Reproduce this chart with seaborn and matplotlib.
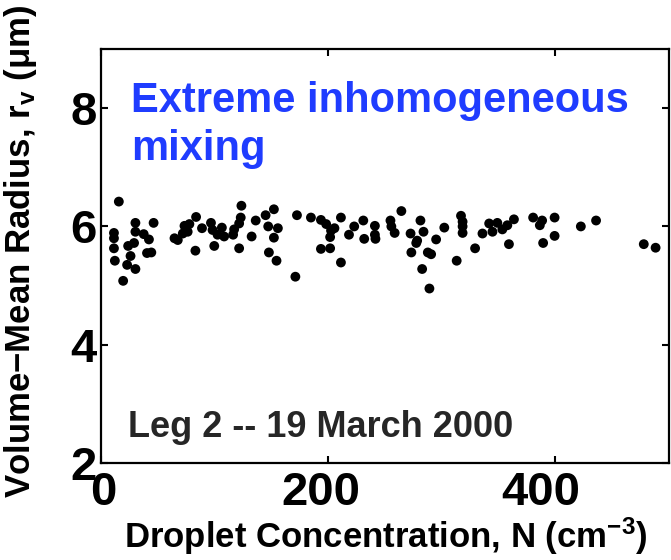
import matplotlib
matplotlib.use("Agg")
import matplotlib.pyplot as plt
import matplotlib.transforms as mtransforms
import seaborn as sns
import pandas as pd

# Droplet concentration N (cm^-3)
conc = [15.7, 11.4, 11.4, 11.4, 12.2, 19.5, 23.0, 26.0, 23.9, 29.1,
        30.3, 30.3, 30.3, 37.6, 42.2, 40.5, 44.3, 46.3, 64.7, 67.6,
        72.0, 73.5, 77.8, 76.3, 83.7, 88.9, 83.1, 96.8, 98.2, 102.6,
        106.4, 108.4, 99.7, 117.2, 116.3, 121.6, 123.0, 123.6, 121.6, 132.6,
        136.2, 144.9, 152.2, 147.2, 155.7, 152.2, 147.8, 154.5, 172.5, 171.1,
        184.8, 193.6, 198.2, 202.5, 205.5, 201.7, 193.6, 201.7, 211.2, 211.2,
        218.3, 222.9, 230.9, 231.7, 241.1, 241.1, 241.6, 254.8, 255.6, 258.5,
        264.4, 272.5, 278.3, 277.5, 273.2, 281.2, 283.9, 287.7, 290.6, 282.7,
        289.1, 295.0, 302.2, 313.1, 316.9, 318.3, 318.3, 318.3, 329.3, 335.8,
        341.7, 344.6, 348.9, 353.3, 357.7, 363.5, 359.1, 380.4, 386.3, 388.3,
        389.2, 399.3, 399.3, 422.4, 435.8, 477.8, 488.2]
# Volume-mean radius r_v (um)
radius = [6.42, 5.89, 5.80, 5.63, 5.42, 5.08, 5.35, 5.50, 5.67, 5.72,
          5.28, 6.06, 5.91, 5.87, 5.78, 5.55, 5.56, 6.06, 5.80, 5.77,
          5.88, 6.01, 6.04, 5.91, 6.16, 5.97, 5.59, 6.06, 5.94, 5.86,
          5.98, 5.83, 5.67, 5.95, 5.86, 6.05, 6.15, 6.35, 5.63, 5.83,
          6.10, 6.19, 6.29, 6.00, 5.97, 5.81, 5.56, 5.42, 6.19, 5.15,
          6.15, 6.11, 6.04, 5.93, 5.97, 5.82, 5.62, 5.63, 6.15, 5.39,
          5.86, 6.00, 6.10, 5.79, 6.01, 5.86, 5.79, 6.10, 6.00, 5.89,
          6.26, 5.88, 5.76, 5.72, 5.56, 6.10, 5.91, 5.56, 5.53, 5.28,
          4.95, 5.78, 5.98, 5.42, 6.18, 6.08, 6.00, 5.89, 5.63, 5.88,
          6.05, 5.91, 6.06, 5.95, 6.02, 6.12, 5.70, 6.15, 6.02, 6.10,
          5.72, 6.15, 5.84, 6.00, 6.10, 5.70, 5.64]

xticks = [0, 200, 400]
yticks = [2, 4, 6, 8]

df = pd.DataFrame({"N": conc, "rv": radius})

sns.set_theme(style="white")
plt.rcParams["font.family"] = ["Liberation Sans", "DejaVu Sans"]
plt.rcParams["font.weight"] = "bold"
plt.rcParams["text.color"] = "black"
plt.rcParams["axes.labelcolor"] = "black"
plt.rcParams["xtick.color"] = "black"
plt.rcParams["ytick.color"] = "black"
plt.rcParams["mathtext.fontset"] = "custom"
plt.rcParams["mathtext.rm"] = "Liberation Sans:bold"
plt.rcParams["mathtext.it"] = "Liberation Sans:bold"
plt.rcParams["mathtext.bf"] = "Liberation Sans:bold"

fig = plt.figure(figsize=(6.71, 5.6), dpi=100)
ax = fig.add_axes([101 / 671, 1 - 463 / 560, 568 / 671, 414 / 560])

sns.scatterplot(data=df, x="N", y="rv", ax=ax, color="black", s=50,
                edgecolor="none", linewidth=0, legend=False)

ax.set_xlim(0, 500)
ax.set_ylim(2, 9)
ax.set_xticks(xticks)
ax.set_yticks(yticks)
ax.set_xticklabels([str(t) for t in xticks], fontsize=34, fontweight="bold", color="black")
ax.set_yticklabels([str(t) for t in yticks], fontsize=34, fontweight="bold", color="black")
ax.tick_params(axis="both", direction="in", length=5, width=1.5,
               top=True, right=True, bottom=True, left=True, colors="black")
ax.tick_params(axis="x", pad=6)
ax.tick_params(axis="y", pad=3)
for s in ax.spines.values():
    s.set_visible(True)
    s.set_linewidth(1.6)
    s.set_color("black")

# shift x tick labels slightly like reference
shifts = [2, -7, -15]
for lab, dx in zip(ax.get_xticklabels(), shifts):
    lab.set_transform(lab.get_transform() + mtransforms.ScaledTranslation(dx / 100, 0, fig.dpi_scale_trans))

ax.set_xlabel("Droplet Concentration, N (cm$^{-3}$)", fontsize=25, fontweight="bold", color="black")
ax.set_ylabel("Volume\u2212Mean Radius, r$_{v}$ (\u03bcm)", fontsize=25, fontweight="bold", color="black")
ax.xaxis.set_label_coords(0.502, -0.128)
ax.yaxis.set_label_coords(-0.11, 0.51)

blue = "#1f3cff"
ax.text(0.053, (463 - 112) / 414, "Extreme inhomogeneous", transform=ax.transAxes,
        fontsize=30, fontweight="bold", color=blue, ha="left", va="baseline")
ax.text(0.053, (463 - 160) / 414, "mixing", transform=ax.transAxes,
        fontsize=30, fontweight="bold", color=blue, ha="left", va="baseline")
ax.text((128 - 101) / 568, (463 - 437) / 414, "Leg 2 -- 19 March 2000", transform=ax.transAxes,
        fontsize=26, fontweight="bold", color="#262626", ha="left", va="baseline")

fig.savefig("out.png", dpi=100)
